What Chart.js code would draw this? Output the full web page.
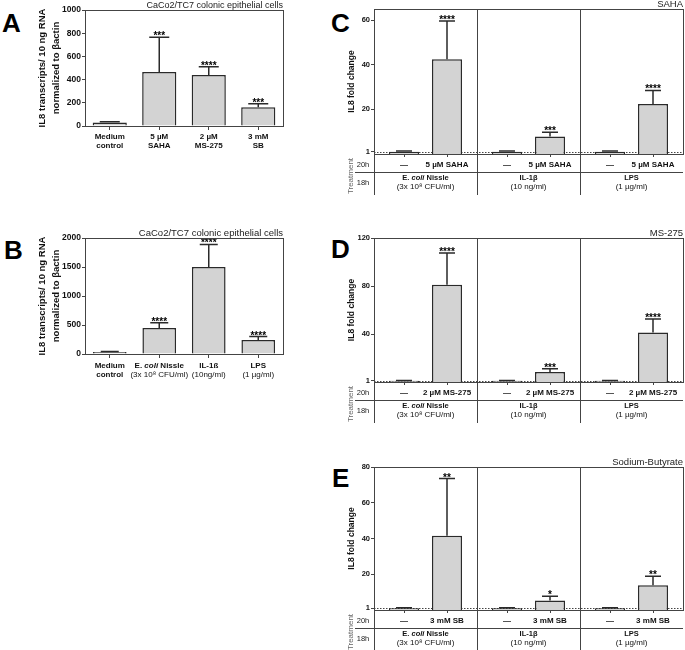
<!DOCTYPE html>
<html>
<head>
<meta charset="utf-8">
<script src="https://cdn.jsdelivr.net/npm/chart.js@4.4.1/dist/chart.umd.min.js"></script>
<style>
  body { margin: 0; background: #fff; }
  #page { position: relative; width: 685px; height: 650px; overflow: hidden; background: #fff; }
  #page canvas { position: absolute; }
  .letter { position: absolute; font: bold 26px "Liberation Sans", Arial, sans-serif; line-height: 26px; color: #000; }
</style>
</head>
<body>
<div id="page">
  <div class="letter" style="left:2px;top:10px">A</div>
  <div class="letter" style="left:4px;top:237px">B</div>
  <div class="letter" style="left:331px;top:10px">C</div>
  <div class="letter" style="left:331px;top:236px">D</div>
  <div class="letter" style="left:332px;top:465px">E</div>
  <canvas id="chartA" width="295" height="162" style="left:0;top:0"></canvas>
  <canvas id="chartB" width="295" height="165" style="left:0;top:220px"></canvas>
  <canvas id="chartC" width="355" height="200" style="left:330px;top:0"></canvas>
  <canvas id="chartD" width="355" height="200" style="left:330px;top:225px"></canvas>
  <canvas id="chartE" width="355" height="195" style="left:330px;top:455px"></canvas>
</div>
<script>
// ---- panel A: HDAC inhibitors alone ----
const labelsA = [['Medium', 'control'], ['5 µM', 'SAHA'], ['2 µM', 'MS-275'], ['3 mM', 'SB']];
const valuesA = [30, 465, 440, 162];
const errTopA = [36, 765, 510, 192];
const starsA = ['', '***', '****', '***'];
const ticksA = [0, 200, 400, 600, 800, 1000];

// ---- panel B: bacteria / cytokine / LPS ----
const labelsB = ['Medium', 'E. coli Nissle', 'IL-1ß', 'LPS'];
const subLabelsB = ['control', '(3x 10⁸ CFU/ml)', '(10ng/ml)', '(1 µg/ml)'];
const valuesB = [35, 450, 1500, 240];
const errTopB = [45, 540, 1890, 300];
const starsB = ['', '****', '****', '****'];
const ticksB = [0, 500, 1000, 1500, 2000];

// ---- panels C-E: fold change, 18h stimulus then 20h inhibitor ----
const groups = ['E. coli Nissle', 'IL-1β', 'LPS'];
const groupDoses = ['(3x 10⁸ CFU/ml)', '(10 ng/ml)', '(1 µg/ml)'];
const controlValues = [1, 1, 1];
const controlErrTop = [1.3, 1.3, 1.3];

const valuesC = [42.5, 7.9, 22.4];
const errTopC = [59.6, 9.7, 28.5];
const starsC = ['****', '***', '****'];
const ticksC = [1, 20, 40, 60];

const valuesD = [81, 8.3, 41.3];
const errTopD = [107.5, 11, 52.5];
const starsD = ['****', '***', '****'];
const ticksD = [1, 40, 80, 120];

const valuesE = [41.6, 5.3, 13.9];
const errTopE = [73.5, 7.7, 18.9];
const starsE = ['**', '*', '**'];
const ticksE = [1, 20, 40, 60, 80];

const FAM = '"Liberation Sans", Arial, sans-serif';
const BAR = '#d3d3d3';
const EDGE = '#2a2a2a';
const AX = '#444';
Chart.defaults.font.family = FAM;
Chart.defaults.color = '#111';

// draw text centred at cx, with "coli" in italics like the figure
function richText(ctx, text, cx, cy, size, bold) {
  const parts = text.split(/(coli)/).filter(Boolean);
  const fontOf = p => (p === 'coli' ? 'italic ' : '') + (bold ? 'bold ' : '') + size + 'px ' + FAM;
  let w = 0;
  parts.forEach(p => { ctx.font = fontOf(p); w += ctx.measureText(p).width; });
  let x = cx - w / 2;
  ctx.textAlign = 'left';
  ctx.textBaseline = 'middle';
  parts.forEach(p => { ctx.font = fontOf(p); ctx.fillText(p, x, cy); x += ctx.measureText(p).width; });
}

// box around the plot area + title at top right
const frame = (title, size) => ({
  id: 'frame',
  afterDraw(chart) {
    const { ctx, chartArea: ca } = chart;
    ctx.save();
    ctx.strokeStyle = AX;
    ctx.lineWidth = 1;
    ctx.strokeRect(Math.round(ca.left) + 0.5, Math.round(ca.top) + 0.5,
      Math.round(ca.right - ca.left), Math.round(ca.bottom - ca.top));
    ctx.fillStyle = '#222';
    ctx.font = size + 'px ' + FAM;
    ctx.textAlign = 'right';
    ctx.textBaseline = 'alphabetic';
    ctx.fillText(title, ca.right, ca.top - 2);
    ctx.restore();
  }
});

// one-sided error bars with significance stars
const errBars = (tops, stars, cap) => ({
  id: 'errBars',
  afterDatasetsDraw(chart) {
    const { ctx, scales: { y } } = chart;
    ctx.save();
    ctx.strokeStyle = EDGE;
    ctx.lineWidth = 1.5;
    ctx.fillStyle = '#000';
    ctx.font = 'bold 10px ' + FAM;
    ctx.textAlign = 'center';
    ctx.textBaseline = 'alphabetic';
    tops.forEach((arr, di) => {
      chart.getDatasetMeta(di).data.forEach((bar, i) => {
        const yt = y.getPixelForValue(arr[i]);
        ctx.beginPath();
        ctx.moveTo(bar.x, bar.y);
        ctx.lineTo(bar.x, yt);
        ctx.moveTo(bar.x - cap / 2, yt);
        ctx.lineTo(bar.x + cap / 2, yt);
        ctx.stroke();
        const s = stars[di] ? stars[di][i] : '';
        if (s) ctx.fillText(s, bar.x, yt + 2);
      });
    });
    ctx.restore();
  }
});

// dotted baseline at fold change = 1
const oneLine = {
  id: 'oneLine',
  beforeDatasetsDraw(chart) {
    const { ctx, chartArea: ca, scales: { y } } = chart;
    const yy = Math.round(y.getPixelForValue(1)) + 0.5;
    ctx.save();
    ctx.strokeStyle = '#444';
    ctx.lineWidth = 1;
    ctx.setLineDash([1.5, 1.5]);
    ctx.beginPath();
    ctx.moveTo(ca.left, yy);
    ctx.lineTo(ca.right, yy);
    ctx.stroke();
    ctx.restore();
  }
};

// x labels of panel B (mixed bold / italic)
const bLabels = {
  id: 'bLabels',
  afterDraw(chart) {
    const { ctx, chartArea: ca, scales: { x } } = chart;
    ctx.save();
    ctx.fillStyle = '#111';
    labelsB.forEach((t, i) => {
      const cx = x.getPixelForValue(i);
      richText(ctx, t, cx, ca.bottom + 11.5, 8, true);
      richText(ctx, subLabelsB[i], cx, ca.bottom + 20.5, 8, i === 0);
    });
    ctx.restore();
  }
};

// treatment table below panels C-E
const treatTable = (dose) => ({
  id: 'treatTable',
  afterDraw(chart) {
    const { ctx, chartArea: ca, scales: { x } } = chart;
    const b = ca.bottom;
    const end = b + 41;
    const m0 = chart.getDatasetMeta(0).data;
    const m1 = chart.getDatasetMeta(1).data;
    ctx.save();
    ctx.strokeStyle = AX;
    ctx.lineWidth = 1;
    // group dividers
    for (let i = 0; i < groups.length - 1; i++) {
      const gx = Math.round((x.getPixelForValue(i) + x.getPixelForValue(i + 1)) / 2) + 0.5;
      ctx.beginPath(); ctx.moveTo(gx, ca.top); ctx.lineTo(gx, end); ctx.stroke();
    }
    const lx = Math.round(ca.left) + 0.5;
    ctx.beginPath(); ctx.moveTo(lx, b); ctx.lineTo(lx, end); ctx.stroke();
    const hy = Math.round(b + 18) + 0.5;
    ctx.beginPath(); ctx.moveTo(25, hy); ctx.lineTo(ca.right, hy); ctx.stroke();
    // tick marks under each bar
    [...m0, ...m1].forEach(bar => {
      ctx.beginPath(); ctx.moveTo(Math.round(bar.x) + 0.5, b); ctx.lineTo(Math.round(bar.x) + 0.5, b + 3); ctx.stroke();
    });
    ctx.fillStyle = '#222';
    ctx.font = '7.5px ' + FAM;
    ctx.textAlign = 'center';
    ctx.textBaseline = 'middle';
    ctx.fillText('20h', 33, b + 11);
    ctx.fillText('18h', 33, b + 29);
    ctx.save();
    ctx.translate(21, b + 22);
    ctx.rotate(-Math.PI / 2);
    ctx.font = '8px ' + FAM;
    ctx.fillStyle = '#666';
    ctx.fillText('Treatment', 0, 0);
    ctx.restore();
    ctx.fillStyle = '#111';
    groups.forEach((g, i) => {
      ctx.font = 'bold 8px ' + FAM;
      ctx.textAlign = 'center';
      ctx.fillText('—', m0[i].x, b + 11);
      ctx.fillText(dose, m1[i].x, b + 11);
      richText(ctx, g, x.getPixelForValue(i), b + 24, 7.5, true);
      richText(ctx, groupDoses[i], x.getPixelForValue(i), b + 32.5, 8, false);
    });
    ctx.restore();
  }
});

function yScale(ticks, max, title, titleSize, titleLh, titlePad, tickSize, width) {
  return {
    min: 0, max: max,
    afterBuildTicks: s => { s.ticks = ticks.map(v => ({ value: v })); },
    grid: { drawOnChartArea: false, tickLength: 3, color: AX },
    border: { color: AX },
    ticks: { font: { size: tickSize, weight: 'bold' }, padding: 1, color: '#111', callback: v => String(v) },
    title: { display: true, text: title, color: '#111',
      font: { size: titleSize, weight: 'bold', lineHeight: titleLh }, padding: { top: titlePad, bottom: 0 } },
    afterFit: s => { s.width = width; }
  };
}

const baseOpts = {
  responsive: false,
  animation: false,
  events: [],
  plugins: { legend: { display: false }, tooltip: { enabled: false } }
};

// panel A
new Chart(document.getElementById('chartA'), {
  type: 'bar',
  data: { labels: labelsA, datasets: [{ data: valuesA, backgroundColor: BAR, borderColor: EDGE,
    borderWidth: 1.5, barPercentage: 0.69, categoryPercentage: 1 }] },
  options: Object.assign({}, baseOpts, {
    layout: { padding: { top: 10, right: 12, left: 0, bottom: 0 } },
    scales: {
      x: { grid: { drawOnChartArea: false, offset: false, tickLength: 4, color: AX }, border: { color: AX },
        ticks: { font: { size: 8, weight: 'bold', lineHeight: 1.15 }, padding: 2, color: '#111', maxRotation: 0, autoSkip: false },
        afterFit: s => { s.height = 36; } },
      y: yScale(ticksA, 1000, ['IL8 transcripts/ 10 ng RNA', 'normalized to βactin'], 9.5, 1.4, 36, 8.5, 85)
    }
  }),
  plugins: [frame('CaCo2/TC7 colonic epithelial cells', 9), errBars([errTopA], [starsA], 20)]
});

// panel B
new Chart(document.getElementById('chartB'), {
  type: 'bar',
  data: { labels: labelsB, datasets: [{ data: valuesB, backgroundColor: BAR, borderColor: EDGE,
    borderWidth: 1.5, barPercentage: 0.68, categoryPercentage: 1 }] },
  options: Object.assign({}, baseOpts, {
    layout: { padding: { top: 18, right: 12, left: 0, bottom: 0 } },
    scales: {
      x: { grid: { drawOnChartArea: false, offset: false, tickLength: 4, color: AX }, border: { color: AX },
        ticks: { display: false }, afterFit: s => { s.height = 31; } },
      y: yScale(ticksB, 2000, ['IL8 transcripts/ 10 ng RNA', 'normalized to βactin'], 9.5, 1.4, 36, 8.5, 85)
    }
  }),
  plugins: [frame('CaCo2/TC7 colonic epithelial cells', 9.5), errBars([errTopB], [starsB], 18), bLabels]
});

function foldChart(id, values, errTop, stars, ticks, max, title, dose, padTop, xHeight) {
  return new Chart(document.getElementById(id), {
    type: 'bar',
    data: { labels: groups, datasets: [
      { data: controlValues, backgroundColor: BAR, borderColor: EDGE, borderWidth: 1.5, barPercentage: 0.7, categoryPercentage: 0.835 },
      { data: values, backgroundColor: BAR, borderColor: EDGE, borderWidth: 1.5, barPercentage: 0.7, categoryPercentage: 0.835 }
    ] },
    options: Object.assign({}, baseOpts, {
      layout: { padding: { top: padTop, right: 2, left: 0, bottom: 0 } },
      scales: {
        x: { grid: { display: false }, border: { display: false }, ticks: { display: false },
          afterFit: s => { s.height = xHeight; } },
        y: yScale(ticks, max, 'IL8 fold change', 8.5, 1.2, 17, 7.5, 44)
      }
    }),
    plugins: [oneLine, frame(title, 9.5), errBars([controlErrTop, errTop], [null, stars], 16), treatTable(dose)]
  });
}

foldChart('chartC', valuesC, errTopC, starsC, ticksC, 65, 'SAHA', '5 µM SAHA', 9, 46);
foldChart('chartD', valuesD, errTopD, starsD, ticksD, 120, 'MS-275', '2 µM MS-275', 13, 43);
foldChart('chartE', valuesE, errTopE, starsE, ticksE, 80, 'Sodium-Butyrate', '3 mM SB', 12, 40);
</script>
</body>
</html>
